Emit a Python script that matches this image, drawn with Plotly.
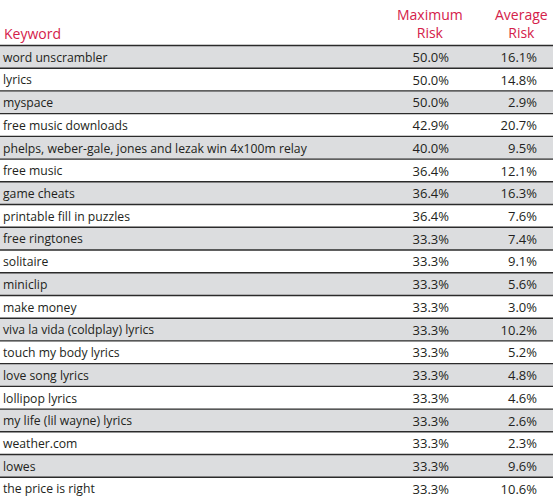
import plotly.graph_objects as go

keywords = [
    "word unscrambler", "lyrics", "myspace", "free music downloads",
    "phelps, weber-gale, jones and lezak win 4x100m relay", "free music",
    "game cheats", "printable fill in puzzles", "free ringtones", "solitaire",
    "miniclip", "make money", "viva la vida (coldplay) lyrics",
    "touch my body lyrics", "love song lyrics", "lollipop lyrics",
    "my life (lil wayne) lyrics", "weather.com", "lowes", "the price is right",
]
max_risk = [50.0, 50.0, 50.0, 42.9, 40.0, 36.4, 36.4, 36.4, 33.3, 33.3,
            33.3, 33.3, 33.3, 33.3, 33.3, 33.3, 33.3, 33.3, 33.3, 33.3]
avg_risk = [16.1, 14.8, 2.9, 20.7, 9.5, 12.1, 16.3, 7.6, 7.4, 9.1,
            5.6, 3.0, 10.2, 5.2, 4.8, 4.6, 2.6, 2.3, 9.6, 10.6]
headers = ["Keyword", "Maximum<br>Risk", "Average<br>Risk"]

FONT = "Open Sans"
TXT = "#231f20"
RED = "#d4214a"
GRAY = "#dcdddf"
W = 553
n = len(keywords)
rows = list(range(n))
TEXT_DY = 0.08  # small baseline nudge for text within each row
text_y = [i + TEXT_DY for i in rows]

fig = go.Figure()

# alternating gray row backgrounds
gray_rows = [i for i in rows if i % 2 == 0]
fig.add_trace(go.Bar(
    y=gray_rows, x=[W] * len(gray_rows), base=0, orientation="h", width=1,
    marker=dict(color=GRAY, line=dict(width=0)), hoverinfo="skip", showlegend=False,
))

# row separator lines (one above each row)
lx, ly = [], []
for i in rows:
    lx += [0, W, None]
    ly += [i - 0.5, i - 0.5, None]
fig.add_trace(go.Scatter(
    x=lx, y=ly, mode="lines", line=dict(color="#2b2b2b", width=1.4),
    hoverinfo="skip", showlegend=False,
))

fig.add_trace(go.Scatter(
    x=[3] * n, y=text_y, mode="text", text=keywords, textposition="middle right",
    textfont=dict(family=FONT, size=12.2, color=TXT), hoverinfo="skip", showlegend=False,
))
fig.add_trace(go.Scatter(
    x=[449] * n, y=text_y, mode="text", text=[f"{v:.1f}%" for v in max_risk],
    textposition="middle left",
    textfont=dict(family=FONT, size=13, color=TXT), hoverinfo="skip", showlegend=False,
))
fig.add_trace(go.Scatter(
    x=[537] * n, y=text_y, mode="text", text=[f"{v:.1f}%" for v in avg_risk],
    textposition="middle left",
    textfont=dict(family=FONT, size=13, color=TXT), hoverinfo="skip", showlegend=False,
))

# headers
fig.add_annotation(x=2, y=-1.02, text=headers[0], xanchor="left", yanchor="middle",
                   showarrow=False, font=dict(family=FONT, size=14, color=RED))
fig.add_annotation(x=430, y=-1.47, text=headers[1], xanchor="center", yanchor="middle",
                   align="center", showarrow=False, font=dict(family=FONT, size=14, color=RED))
fig.add_annotation(x=521.5, y=-1.47, text=headers[2], xanchor="center", yanchor="middle",
                   align="center", showarrow=False, font=dict(family=FONT, size=14, color=RED))

fig.update_layout(
    width=553, height=500, margin=dict(l=0, r=0, t=0, b=0),
    paper_bgcolor="white", plot_bgcolor="white", bargap=0,
    xaxis=dict(range=[0, W], visible=False, fixedrange=True),
    yaxis=dict(range=[n - 0.5, -2.5], visible=False, fixedrange=True),
)

fig.write_html("out.html", config={"displayModeBar": False},
               post_script="document.body.style.margin='0';")
